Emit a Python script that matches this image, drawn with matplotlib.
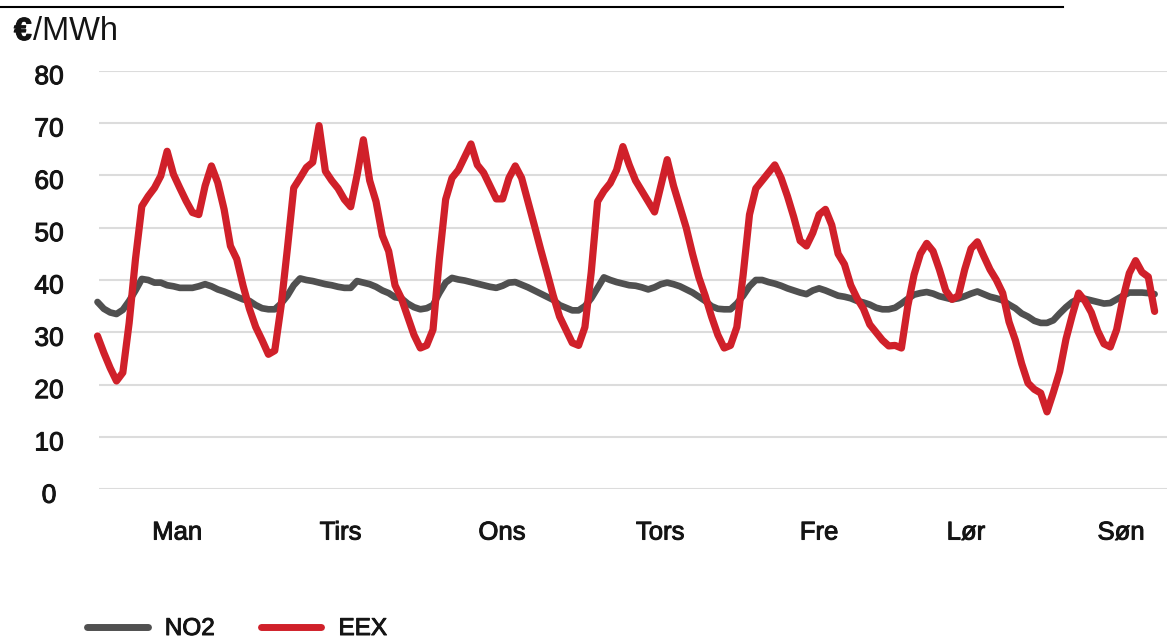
import numpy as np
import matplotlib
matplotlib.use("Agg")
import matplotlib.pyplot as plt
from matplotlib.lines import Line2D
import matplotlib.transforms as mtransforms
import matplotlib.patheffects as pe

plt.rcParams['font.family'] = ['Liberation Sans', 'DejaVu Sans']

# Hourly prices over one week, EUR/MWh
day_labels = ["Man", "Tirs", "Ons", "Tors", "Fre", "Lør", "Søn"]
day_label_hours = [12.6, 38.4, 63.9, 88.9, 114.0, 137.2, 161.7]
y_ticks = [0, 10, 20, 30, 40, 50, 60, 70, 80]
series_names = ["NO2", "EEX"]

no2 = [
    35.8, 34.5, 33.8, 33.5, 34.3, 36.0, 38.0, 40.2, 40.0, 39.5, 39.5, 39.0,
    38.8, 38.5, 38.5, 38.5, 38.8, 39.2, 38.8, 38.2, 37.8, 37.3, 36.8, 36.3,
    36.0, 35.2, 34.6, 34.4, 34.4, 35.5, 37.0, 39.0, 40.3, 40.0, 39.8, 39.5,
    39.2, 39.0, 38.7, 38.5, 38.5, 39.8, 39.5, 39.2, 38.7, 38.0, 37.5, 36.7,
    36.5, 35.5, 34.8, 34.4, 34.6, 35.2, 37.5, 39.5, 40.4, 40.1, 39.9, 39.6,
    39.3, 39.0, 38.7, 38.5, 38.9, 39.5, 39.6, 39.1, 38.6, 38.0, 37.4, 36.8,
    36.2, 35.2, 34.7, 34.2, 34.2, 35.0, 36.5, 38.5, 40.5, 40.0, 39.6, 39.3,
    39.0, 38.9, 38.6, 38.2, 38.6, 39.2, 39.5, 39.2, 38.8, 38.2, 37.6, 36.8,
    36.0, 35.0, 34.5, 34.4, 34.4, 35.5, 37.0, 38.8, 40.0, 40.0, 39.6, 39.3,
    38.9, 38.4, 38.0, 37.6, 37.3, 38.0, 38.4, 38.0, 37.5, 37.0, 36.8, 36.5,
    36.0, 35.7, 35.3, 34.7, 34.4, 34.4, 34.7, 35.5, 36.4, 37.2, 37.5, 37.7,
    37.4, 36.9, 36.6, 36.3, 36.5, 36.9, 37.4, 37.8, 37.3, 36.8, 36.5, 36.1,
    35.3, 34.6, 33.6, 33.0, 32.2, 31.8, 31.8, 32.3, 33.6, 34.8, 35.8, 36.4,
    36.4, 36.1, 35.8, 35.5, 35.6, 36.3, 37.0, 37.6, 37.6, 37.6, 37.5, 37.3,
]

eex = [
    29.3, 26.1, 23.2, 20.7, 22.3, 31.8, 44.0, 54.1, 56.0, 57.6, 59.9, 64.6,
    60.2, 57.6, 55.1, 52.9, 52.5, 58.0, 61.8, 58.6, 53.5, 46.5, 44.0, 38.9,
    34.5, 31.0, 28.5, 25.8, 26.5, 35.0, 46.0, 57.6, 59.5, 61.5, 62.5, 69.5,
    60.8, 59.0, 57.5, 55.4, 54.0, 60.0, 66.8, 59.0, 55.0, 48.5, 45.5, 39.0,
    36.5, 33.0, 29.5, 27.0, 27.5, 30.5, 44.0, 55.4, 59.5, 61.0, 63.5, 66.0,
    62.0, 60.5, 58.0, 55.5, 55.5, 59.5, 61.8, 59.5, 55.0, 50.5, 45.9, 41.5,
    37.0, 33.0, 30.5, 28.0, 27.5, 31.0, 41.5, 55.0, 57.0, 58.5, 61.0, 65.5,
    62.0, 59.0, 57.0, 55.0, 53.0, 58.0, 63.0, 58.0, 54.0, 50.0, 45.0, 40.5,
    37.0, 33.0, 29.5, 27.0, 27.5, 31.0, 41.0, 52.5, 57.5, 59.0, 60.5, 62.0,
    59.5, 56.0, 52.0, 47.5, 46.5, 49.0, 52.5, 53.5, 50.5, 45.0, 43.0, 39.0,
    36.5, 34.5, 31.5, 30.0, 28.5, 27.4, 27.5, 27.0, 35.0, 41.0, 45.0, 47.0,
    45.5, 42.0, 38.0, 36.3, 37.0, 42.0, 46.0, 47.3, 44.6, 42.0, 40.0, 37.5,
    32.0, 28.5, 24.0, 20.3, 19.1, 18.4, 14.8, 18.5, 22.5, 28.7, 33.3, 37.5,
    36.0, 33.8, 30.3, 27.8, 27.2, 30.5, 36.5, 41.3, 43.7, 41.5, 40.6, 34.0,
]

hours = np.arange(len(eex))

W, H = 1167, 639
fig = plt.figure(figsize=(W / 100, H / 100), dpi=100)


def px_rect(x0, y0, x1, y1):
    return [x0 / W, 1 - y1 / H, (x1 - x0) / W, (y1 - y0) / H]


ax = fig.add_axes(px_rect(99, 70.7, 1167, 489.3))

# hour h sits at pixel 97.5 + 6.33*h
ax.set_xlim((99 - 97.5) / 6.33, (1167 - 97.5) / 6.33)
ax.set_ylim(0, 80)

gray = "#505050"
red = "#d0202a"
ink = "#141414"
heavy = [pe.withStroke(linewidth=0.7, foreground=ink)]

ax.plot(hours, no2, color=gray, lw=4.8, solid_capstyle="round",
        solid_joinstyle="round", clip_on=False, zorder=3)
ax.plot(hours, eex, color=red, lw=5.2, solid_capstyle="round",
        solid_joinstyle="round", clip_on=False, zorder=4)

for s in ax.spines.values():
    s.set_visible(False)

ax.set_yticks(y_ticks)
ax.set_yticklabels([str(v) for v in y_ticks])
ax.grid(axis="y", color="#dcdcdc", lw=1.5)
ax.set_axisbelow(True)
ax.tick_params(axis="y", length=0, pad=36, labelsize=19, labelcolor=ink)
down = mtransforms.ScaledTranslation(0, -4 / 100, fig.dpi_scale_trans)
for lab in ax.get_yticklabels():
    lab.set_horizontalalignment("center")
    lab.set_transform(lab.get_transform() + down)
    lab.set_path_effects(heavy)

ax.set_xticks(day_label_hours)
ax.set_xticklabels(day_labels)
ax.tick_params(axis="x", length=0, pad=22.5, labelsize=18.5, labelcolor=ink)
for lab in ax.get_xticklabels():
    lab.set_path_effects(heavy)

# unit label
fig.text(14 / W, 1 - 32 / H, "€", fontsize=23, fontweight="bold",
         color=ink, va="center", ha="left",
         path_effects=[pe.withStroke(linewidth=0.8, foreground=ink)])
fig.text(33 / W, 1 - 32 / H, "/MWh", fontsize=23.5, color=ink,
         va="center", ha="left")

# rule along the top
fig.add_artist(Line2D([0, 1063 / W], [1 - 6.5 / H, 1 - 6.5 / H],
                      transform=fig.transFigure, color="black", lw=1.5))

handles = [
    Line2D([], [], color=gray, lw=5, solid_capstyle="round"),
    Line2D([], [], color=red, lw=5, solid_capstyle="round"),
]
leg = ax.legend(handles, series_names, loc="center left",
                bbox_to_anchor=(87 / W, 1 - 629 / H),
                bbox_transform=fig.transFigure,
                frameon=False, ncol=2, handlelength=2.5, handletextpad=0.7,
                columnspacing=1.9, borderpad=0, borderaxespad=0, fontsize=17.5,
                labelcolor=ink)
for t in leg.get_texts():
    t.set_path_effects(heavy)

fig.savefig("out.png", dpi=100, facecolor="white")
